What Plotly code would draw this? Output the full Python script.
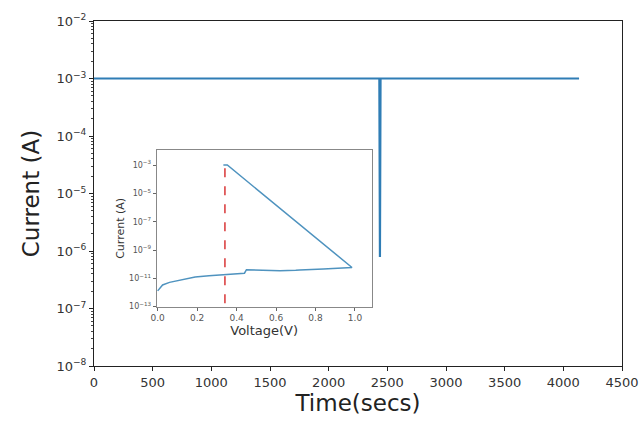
import plotly.graph_objects as go

# Main: current vs time
time_s = [0, 2432, 2437, 2442, 4134]
current_a = [1.0e-3, 1.0e-3, 7.9e-7, 1.0e-3, 1.0e-3]

# Inset: I-V sweep
voltage_v = [0.0, 0.025, 0.06, 0.10, 0.13, 0.19, 0.26, 0.34, 0.44, 0.45, 0.47, 0.55,
             0.62, 0.70, 0.72, 0.84, 0.97, 0.985, 0.353, 0.333]
iv_current = [1.3e-12, 3.4e-12, 5.2e-12, 7.0e-12, 8.9e-12, 1.26e-11, 1.55e-11, 1.95e-11,
              2.3e-11, 4.1e-11, 4.0e-11, 3.3e-11, 3.4e-11, 3.7e-11, 3.9e-11, 4.6e-11,
              5.6e-11, 5.8e-11, 1.0e-3, 1.0e-3]
set_voltage = [0.341, 0.341]
set_line_current = [5.9e-4, 1.7e-13]

main_yticks = [1e-8, 1e-7, 1e-6, 1e-5, 1e-4, 1e-3, 1e-2]
main_ytext = ["10<sup>−8</sup>", "10<sup>−7</sup>", "10<sup>−6</sup>", "10<sup>−5</sup>",
              "10<sup>−4</sup>", "10<sup>−3</sup>", "10<sup>−2</sup>"]
inset_yticks = [1e-13, 1e-11, 1e-9, 1e-7, 1e-5, 1e-3]
inset_ytext = ["10<sup>−13</sup>", "10<sup>−11</sup>", "10<sup>−9</sup>", "10<sup>−7</sup>",
               "10<sup>−5</sup>", "10<sup>−3</sup>"]
xticks = [0, 500, 1000, 1500, 2000, 2500, 3000, 3500, 4000, 4500]
inset_xticks = [0.0, 0.2, 0.4, 0.6, 0.8, 1.0]
inset_xtext = ["0.0", "0.2", "0.4", "0.6", "0.8", "1.0"]

minor_yticks = [m * d for d in main_yticks[:-1] for m in range(2, 10)]

FONT = "DejaVu Sans"
fig = go.Figure()
fig.add_trace(go.Scatter(x=time_s, y=current_a, mode="lines",
                         line=dict(color="#2f7db5", width=2.2), xaxis="x", yaxis="y",
                         showlegend=False))
fig.add_trace(go.Scatter(x=voltage_v, y=iv_current, mode="lines",
                         line=dict(color="#4f93bf", width=1.5), xaxis="x2", yaxis="y2",
                         showlegend=False))
fig.add_trace(go.Scatter(x=set_voltage, y=set_line_current, mode="lines",
                         line=dict(color="#d62728", width=1.4, dash="dash"), xaxis="x2", yaxis="y2",
                         showlegend=False))

fig.update_layout(
    width=644, height=421,
    margin=dict(l=94, r=22, t=21, b=55),
    paper_bgcolor="white", plot_bgcolor="white",
    font=dict(family=FONT, color="#333333"),
    xaxis=dict(range=[0, 4500], tickvals=xticks, showgrid=False, zeroline=False, automargin=False,
               showline=True, linecolor="#222", linewidth=1, mirror=True,
               ticks="outside", ticklen=4, tickcolor="#222",
               tickfont=dict(size=13, family=FONT, color="#333"),
               title=dict(text="Time(secs)", font=dict(size=23, family=FONT, color="#222"), standoff=0)),
    yaxis=dict(type="log", range=[-8, -2], tickvals=main_yticks, ticktext=main_ytext,
               showgrid=False, zeroline=False, automargin=False,
               showline=True, linecolor="#222", linewidth=1, mirror=True,
               ticks="outside", ticklen=4, tickcolor="#222",
               minor=dict(tickvals=minor_yticks, ticks="outside", ticklen=2,
                          tickcolor="#444", showgrid=False),
               tickfont=dict(size=13, family=FONT, color="#333"),
               title=dict(text="Current (A)", font=dict(size=23, family=FONT, color="#222"), standoff=10)),
    xaxis2=dict(domain=[0.1187, 0.526], anchor="y2", range=[-0.005, 1.085],
                tickvals=inset_xticks, ticktext=inset_xtext, automargin=False,
                showgrid=False, zeroline=False, showline=True, linecolor="#888", linewidth=1,
                mirror=True, ticks="outside", ticklen=3, tickcolor="#666",
                tickfont=dict(size=9, family=FONT, color="#555"),
                title=dict(text="Voltage(V)", font=dict(size=13, family=FONT, color="#333"), standoff=0)),
    yaxis2=dict(domain=[0.172, 0.626], anchor="x2", type="log", range=[-13, -1.94],
                tickvals=inset_yticks, ticktext=inset_ytext, automargin=False,
                showgrid=False, zeroline=False, showline=True, linecolor="#888", linewidth=1,
                mirror=True, ticks="outside", ticklen=3, tickcolor="#666",
                tickfont=dict(size=8, family=FONT, color="#555"),
                title=dict(text="Current (A)", font=dict(size=11, family=FONT, color="#333"), standoff=2)),
)

fig.write_html("out.html", config={"displayModeBar": False},
               post_script="document.body.style.margin='0px';")
